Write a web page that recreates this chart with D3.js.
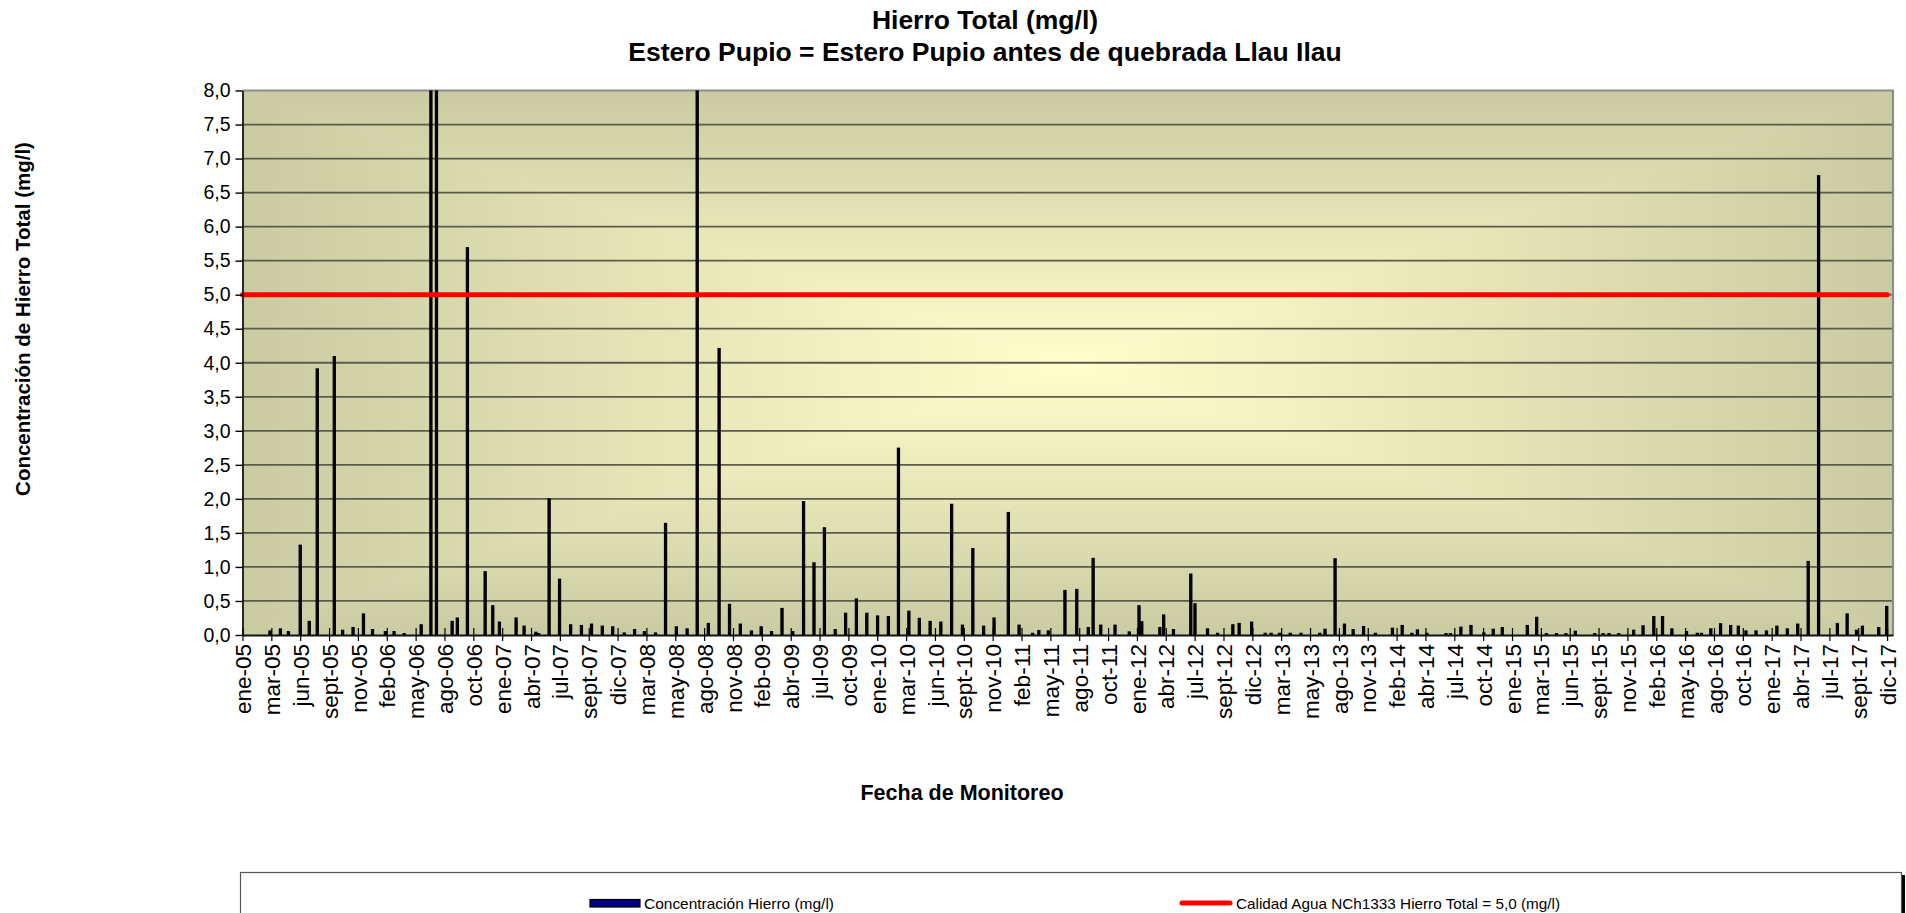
<!DOCTYPE html>
<html>
<head>
<meta charset="utf-8">
<script src="https://cdn.jsdelivr.net/npm/d3@7"></script>
<style>
  html, body { margin: 0; padding: 0; background: #ffffff; }
  svg { display: block; font-family: "Liberation Sans", Arial, sans-serif; }
</style>
</head>
<body>
<svg id="chart" width="1906" height="913"></svg>
<script>
// Sampling dates (Estero Pupio antes de quebrada Llau Llau)
const sampleDates = [
  "2005-03-21","2005-04-20","2005-05-13","2005-06-16","2005-07-12","2005-08-04","2005-09-22","2005-10-16","2005-11-15","2005-12-15",
  "2006-01-10","2006-02-16","2006-03-13","2006-04-11","2006-05-30","2006-06-27","2006-07-13","2006-08-27","2006-09-11","2006-10-10",
  "2006-11-30","2006-12-22","2007-01-10","2007-02-27","2007-03-22","2007-04-25","2007-05-03","2007-06-02","2007-07-02","2007-08-03",
  "2007-09-03","2007-10-02","2007-11-02","2007-12-02","2008-01-04","2008-02-03","2008-03-02","2008-04-03","2008-05-02","2008-06-02",
  "2008-07-03","2008-08-01","2008-09-02","2008-10-03","2008-11-02","2008-12-03","2009-01-04","2009-02-01","2009-03-03","2009-04-02",
  "2009-05-03","2009-06-03","2009-07-03","2009-08-02","2009-09-02","2009-10-02","2009-11-02","2009-12-02","2010-01-02","2010-02-02",
  "2010-03-03","2010-04-02","2010-05-02","2010-06-02","2010-07-03","2010-08-03","2010-09-03","2010-10-03","2010-11-03","2010-12-03",
  "2011-01-13","2011-02-13","2011-03-24","2011-04-11","2011-05-08","2011-06-25","2011-07-29","2011-08-31","2011-09-14","2011-10-06",
  "2011-11-16","2011-12-27","2012-01-24","2012-02-01","2012-03-24","2012-04-04","2012-05-02","2012-06-21","2012-07-03","2012-08-08",
  "2012-09-06","2012-10-20","2012-11-07","2012-12-13","2013-01-21","2013-02-07","2013-03-03","2013-04-03","2013-05-04","2013-06-27",
  "2013-07-12","2013-08-10","2013-09-06","2013-10-01","2013-10-31","2013-12-04","2014-01-22","2014-02-19","2014-03-19","2014-04-04",
  "2014-05-01","2014-06-25","2014-07-08","2014-08-07","2014-09-05","2014-10-12","2014-11-08","2014-12-04","2015-02-14","2015-03-13",
  "2015-04-10","2015-05-09","2015-06-05","2015-07-02","2015-08-27","2015-09-20","2015-10-07","2015-11-04","2015-12-17","2016-01-13",
  "2016-02-13","2016-03-09","2016-04-05","2016-05-17","2016-06-17","2016-06-29","2016-07-26","2016-08-23","2016-09-21","2016-10-13",
  "2016-11-04","2016-12-03","2017-01-02","2017-02-01","2017-03-03","2017-04-02","2017-05-02","2017-06-01","2017-07-25","2017-08-22",
  "2017-09-18","2017-10-05","2017-11-21","2017-12-14"
];

// Hierro total (mg/l), one value per sampling date
const ironValues = [
  0.06, 0.09, 0.05, 1.32, 0.20, 3.91, 4.09, 0.07, 0.11, 0.31,
  0.08, 0.05, 0.05, 0.02, 0.15, 10.4, 9.6, 0.20, 0.25, 5.69,
  0.93, 0.43, 0.19, 0.25, 0.13, 0.04, 0.02, 2.00, 0.82, 0.15,
  0.14, 0.16, 0.13, 0.12, 0.03, 0.08, 0.05, 0.03, 1.64, 0.12,
  0.09, 9.2, 0.17, 4.21, 0.45, 0.16, 0.06, 0.12, 0.05, 0.39,
  0.05, 1.96, 1.06, 1.575, 0.08, 0.32, 0.53, 0.32, 0.28, 0.27,
  2.745, 0.35, 0.245, 0.20, 0.19, 1.92, 0.145, 1.27, 0.13, 0.25,
  1.80, 0.145, 0.025, 0.065, 0.06, 0.655, 0.67, 0.11, 1.125, 0.145,
  0.145, 0.045, 0.43, 0.195, 0.11, 0.295, 0.08, 0.895, 0.46, 0.09,
  0.025, 0.15, 0.17, 0.19, 0.025, 0.025, 0.025, 0.025, 0.025, 0.025,
  0.085, 1.12, 0.16, 0.08, 0.125, 0.025, 0.10, 0.14, 0.025, 0.075,
  0.025, 0.02, 0.02, 0.115, 0.14, 0.03, 0.085, 0.11, 0.14, 0.26,
  0.02, 0.02, 0.02, 0.055, 0.02, 0.02, 0.02, 0.02, 0.07, 0.135,
  0.27, 0.27, 0.09, 0.05, 0.025, 0.025, 0.09, 0.165, 0.14, 0.13,
  0.06, 0.06, 0.06, 0.13, 0.09, 0.16, 1.08, 6.75, 0.17, 0.31,
  0.07, 0.13, 0.11, 0.42
];

// Water quality standard NCh1333 for total iron (mg/l)
const limitDates = ["2005-01-01", "2017-12-15"];
const limitValues = [5.0, 5.0];

// Date axis: labels every 83 days starting 1 Jan 2005
const axisStart = "2005-01-01";
const axisEnd = "2018-01-01";
const tickStepDays = 83;
const xTickLabels = [
  "ene-05","mar-05","jun-05","sept-05","nov-05","feb-06","may-06","ago-06","oct-06","ene-07",
  "abr-07","jul-07","sept-07","dic-07","mar-08","may-08","ago-08","nov-08","feb-09","abr-09",
  "jul-09","oct-09","ene-10","mar-10","jun-10","sept-10","nov-10","feb-11","may-11","ago-11",
  "oct-11","ene-12","abr-12","jul-12","sept-12","dic-12","mar-13","may-13","ago-13","nov-13",
  "feb-14","abr-14","jul-14","oct-14","ene-15","mar-15","jun-15","sept-15","nov-15","feb-16",
  "may-16","ago-16","oct-16","ene-17","abr-17","jul-17","sept-17","dic-17"
];

const yTickValues = [0, 0.5, 1, 1.5, 2, 2.5, 3, 3.5, 4, 4.5, 5, 5.5, 6, 6.5, 7, 7.5, 8];
const yTickLabels = ["0,0","0,5","1,0","1,5","2,0","2,5","3,0","3,5","4,0","4,5","5,0","5,5","6,0","6,5","7,0","7,5","8,0"];

const titleLines = ["Hierro Total (mg/l)", "Estero Pupio = Estero Pupio antes de quebrada Llau Ilau"];
const yAxisTitle = "Concentración de Hierro Total (mg/l)";
const xAxisTitle = "Fecha de Monitoreo";
const legendLabels = ["Concentración Hierro (mg/l)", "Calidad Agua NCh1333 Hierro Total = 5,0 (mg/l)"];

// ---------------------------------------------------------------------------
const parse = d3.utcParse("%Y-%m-%d");
const svg = d3.select("#chart");

const plot = { left: 242.5, right: 1893, top: 90.5, bottom: 635 };
const pw = plot.right - plot.left, ph = plot.bottom - plot.top;

const x = d3.scaleUtc().domain([parse(axisStart), parse(axisEnd)]).range([plot.left, plot.right]);
const y = d3.scaleLinear().domain([0, 8]).range([plot.bottom, plot.top]);

const defs = svg.append("defs");

// Rectangular "from centre" shading: four triangles, each with a linear ramp edge -> centre
const edgeColor = "#cbcba3", centerColor = "#ffffcc";
const cx = plot.left + pw / 2, cy = plot.top + ph / 2;
function ramp(id, x1, y1, x2, y2) {
  const g = defs.append("linearGradient").attr("id", id).attr("gradientUnits", "userSpaceOnUse")
    .attr("x1", x1).attr("y1", y1).attr("x2", x2).attr("y2", y2);
  g.append("stop").attr("offset", 0).attr("stop-color", edgeColor);
  g.append("stop").attr("offset", 1).attr("stop-color", centerColor);
}
ramp("gTop", cx, plot.top, cx, cy);
ramp("gBottom", cx, plot.bottom, cx, cy);
ramp("gLeft", plot.left, cy, cx, cy);
ramp("gRight", plot.right, cy, cx, cy);

const bg = svg.append("g");
const tri = (pts, fill) => bg.append("polygon").attr("points", pts.map(p => p.join(",")).join(" ")).attr("fill", fill).attr("stroke", fill).attr("stroke-width", 0.6);
tri([[plot.left, plot.top], [plot.right, plot.top], [cx, cy]], "url(#gTop)");
tri([[plot.left, plot.bottom], [plot.right, plot.bottom], [cx, cy]], "url(#gBottom)");
tri([[plot.left, plot.top], [plot.left, plot.bottom], [cx, cy]], "url(#gLeft)");
tri([[plot.right, plot.top], [plot.right, plot.bottom], [cx, cy]], "url(#gRight)");

defs.append("clipPath").attr("id", "plotClip").append("rect")
  .attr("x", plot.left).attr("y", plot.top).attr("width", pw).attr("height", ph);

// Horizontal gridlines
svg.append("g").selectAll("line")
  .data(yTickValues.filter(v => v > 0 && v < 8))
  .join("line")
  .attr("x1", plot.left).attr("x2", plot.right)
  .attr("y1", d => y(d)).attr("y2", d => y(d))
  .attr("stroke", "#5b5b4e").attr("stroke-width", 1.8);

// Plot frame (top and right)
svg.append("path")
  .attr("d", `M${plot.left},${plot.top}H${plot.right}V${plot.bottom}`)
  .attr("fill", "none").attr("stroke", "#8c8c8c").attr("stroke-width", 2.2);

// Bars
const data = sampleDates.map((d, i) => ({ date: parse(d), value: ironValues[i] }));
const barW = 2.2;
svg.append("g").attr("clip-path", "url(#plotClip)")
  .selectAll("rect").data(data).join("rect")
  .attr("x", d => x(d.date) - barW / 2)
  .attr("y", d => y(d.value))
  .attr("width", barW)
  .attr("height", d => y(0) - y(d.value))
  .attr("fill", "#000010").attr("stroke", "#000").attr("stroke-width", 1.1);

// Standard limit line
const limit = limitDates.map((d, i) => ({ date: parse(d), value: limitValues[i] }));
svg.append("path")
  .datum(limit)
  .attr("d", d3.line().x(d => x(d.date)).y(d => y(d.value)))
  .attr("fill", "none").attr("stroke", "#ff0000").attr("stroke-width", 5).attr("stroke-linecap", "round");

// Y axis
const yAxis = svg.append("g").attr("transform", `translate(${plot.left},0)`)
  .call(d3.axisLeft(y).tickValues(yTickValues).tickFormat((d, i) => yTickLabels[i]).tickSizeInner(7).tickSizeOuter(0).tickPadding(5));
yAxis.select(".domain").attr("stroke", "#000").attr("stroke-width", 1.6);
yAxis.selectAll(".tick line").attr("stroke", "#000").attr("stroke-width", 1.4);
yAxis.selectAll(".tick text").attr("font-size", 19.5).attr("fill", "#000").attr("font-family", "Liberation Sans, Arial, sans-serif");

// X axis
const start = parse(axisStart);
const tickDates = xTickLabels.map((_, i) => d3.utcDay.offset(start, i * tickStepDays));
const xAxis = svg.append("g").attr("transform", `translate(0,${plot.bottom})`)
  .call(d3.axisBottom(x).tickValues(tickDates).tickFormat((d, i) => xTickLabels[i]).tickSizeInner(6).tickSizeOuter(0));
xAxis.select(".domain").attr("stroke", "#111").attr("stroke-width", 2.2);
xAxis.selectAll(".tick line").attr("y1", -7).attr("y2", 6).attr("stroke", "#000").attr("stroke-width", 1.2);
xAxis.selectAll(".tick text")
  .attr("font-size", 22.5).attr("fill", "#000").attr("font-family", "Liberation Sans, Arial, sans-serif")
  .attr("text-anchor", "end")
  .attr("transform", "rotate(-90)")
  .attr("x", -9).attr("y", 0).attr("dy", "0.36em");

// Titles
const title = svg.append("g").attr("font-weight", "bold").attr("text-anchor", "middle").attr("fill", "#000");
title.append("text").attr("x", 985).attr("y", 29).attr("font-size", 26.5).text(titleLines[0]);
title.append("text").attr("x", 985).attr("y", 61).attr("font-size", 26.5).text(titleLines[1]);

svg.append("text")
  .attr("transform", `translate(30,${(140 + 498) / 2}) rotate(-90)`)
  .attr("text-anchor", "middle").attr("font-weight", "bold").attr("font-size", 20.5)
  .text(yAxisTitle);

svg.append("text")
  .attr("x", 962).attr("y", 800)
  .attr("text-anchor", "middle").attr("font-weight", "bold").attr("font-size", 21.5)
  .text(xAxisTitle);

// Legend
const lg = svg.append("g");
lg.append("rect").attr("x", 243).attr("y", 875).attr("width", 1662).attr("height", 60).attr("fill", "#000");
lg.append("rect").attr("x", 240.5).attr("y", 872.5).attr("width", 1661).attr("height", 60)
  .attr("fill", "#fff").attr("stroke", "#555").attr("stroke-width", 1.2);
lg.append("rect").attr("x", 590).attr("y", 899.5).attr("width", 50).attr("height", 7.5)
  .attr("fill", "#000080").attr("stroke", "#000").attr("stroke-width", 1.2);
lg.append("text").attr("x", 644).attr("y", 909).attr("font-size", 15)
  .attr("textLength", 190).attr("lengthAdjust", "spacingAndGlyphs").text(legendLabels[0]);
lg.append("line").attr("x1", 1182).attr("x2", 1230).attr("y1", 903).attr("y2", 903)
  .attr("stroke", "#ff0000").attr("stroke-width", 5).attr("stroke-linecap", "round");
lg.append("text").attr("x", 1236).attr("y", 909).attr("font-size", 15)
  .attr("textLength", 324).attr("lengthAdjust", "spacingAndGlyphs").text(legendLabels[1]);
</script>
</body>
</html>
